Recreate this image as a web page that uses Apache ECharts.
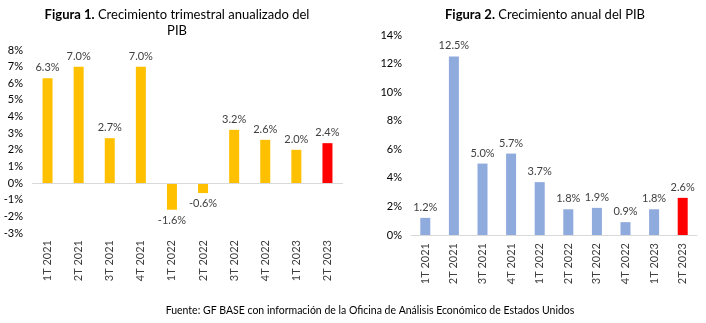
<!DOCTYPE html>
<html>
<head>
<meta charset="utf-8">
<script src="https://cdn.jsdelivr.net/npm/echarts@6/dist/echarts.min.js"></script>
<style>
  html, body { margin: 0; padding: 0; background: #fff; }
  #chart { width: 706px; height: 323px; }
</style>
</head>
<body>
<div id="chart"></div>
<script>
// Quarter labels shared by both panels
const quarters = ['1T 2021', '2T 2021', '3T 2021', '4T 2021', '1T 2022', '2T 2022', '3T 2022', '4T 2022', '1T 2023', '2T 2023'];
// Annualized quarterly GDP growth (%)
const quarterlyGrowth = [6.3, 7.0, 2.7, 7.0, -1.6, -0.6, 3.2, 2.6, 2.0, 2.4];
// Year-over-year GDP growth (%)
const annualGrowth = [1.2, 12.5, 5.0, 5.7, 3.7, 1.8, 1.9, 0.9, 1.8, 2.6];

const FONT = 'Lato, "Open Sans", sans-serif';
const TEXT = '#404040';
const lastIdx = quarters.length - 1;

// Latest quarter highlighted in red; negative values get their label under the bar
function barData(values, base) {
  return values.map((v, i) => ({
    value: v,
    itemStyle: { color: i === lastIdx ? '#FF0000' : base },
    label: { position: v < 0 ? 'bottom' : 'top' }
  }));
}

const chart = echarts.init(document.getElementById('chart'), null, { renderer: 'canvas' });

const titleStyle = {
  fontFamily: FONT, fontSize: 13, fontWeight: 'normal', color: '#000',
  lineHeight: 16, align: 'center',
  rich: { b: { fontFamily: FONT, fontSize: 13, fontWeight: 'bold', color: '#000' } }
};

chart.setOption({
  animation: false,
  textStyle: { fontFamily: FONT },
  title: [
    {
      text: '{b|Figura 1.} Crecimiento trimestral anualizado del\nPIB',
      left: 172, top: 2, textAlign: 'center',
      textStyle: titleStyle
    },
    {
      text: '{b|Figura 2.} Crecimiento anual del PIB',
      left: 540, top: 2, textAlign: 'center',
      textStyle: titleStyle
    },
    {
      text: 'Fuente: GF BASE con información de la Oficina de Análisis Económico de Estados Unidos',
      left: 365, top: 300, textAlign: 'center',
      textStyle: { fontFamily: FONT, fontSize: 10.5, fontWeight: 'normal', color: '#000' }
    }
  ],
  grid: [
    { left: 32, right: 363, top: 50, bottom: 90 },
    { left: 411, right: 9, top: 35, bottom: 88 }
  ],
  xAxis: [
    {
      type: 'category', gridIndex: 0, data: quarters,
      axisLine: { show: false, onZero: false },
      axisTick: { show: false },
      axisLabel: { rotate: 90, margin: 7, fontSize: 11, color: TEXT, fontFamily: FONT, interval: 0 }
    },
    {
      type: 'category', gridIndex: 1, data: quarters,
      axisLine: { show: true, lineStyle: { color: '#D9D9D9', width: 1 } },
      axisTick: { show: false },
      axisLabel: { rotate: 90, margin: 8, fontSize: 11, color: TEXT, fontFamily: FONT, interval: 0 }
    }
  ],
  yAxis: [
    {
      type: 'value', gridIndex: 0, min: -3, max: 8, interval: 1,
      axisLine: { show: false }, axisTick: { show: false }, splitLine: { show: false },
      axisLabel: { formatter: '{value}%', margin: 9, fontSize: 11, color: '#000', fontFamily: FONT }
    },
    {
      type: 'value', gridIndex: 1, min: 0, max: 14, interval: 2,
      axisLine: { show: false }, axisTick: { show: false }, splitLine: { show: false },
      axisLabel: { formatter: '{value}%', margin: 9, fontSize: 11, color: '#000', fontFamily: FONT }
    }
  ],
  series: [
    {
      type: 'bar', xAxisIndex: 0, yAxisIndex: 0, barWidth: 10,
      data: barData(quarterlyGrowth, '#FFC000'),
      label: {
        show: true, distance: 5, fontSize: 11, color: TEXT, fontFamily: FONT,
        formatter: p => p.value.toFixed(1) + '%'
      },
      markLine: {
        silent: true, symbol: 'none', label: { show: false },
        lineStyle: { color: '#D9D9D9', type: 'solid', width: 1 },
        data: [{ yAxis: 0 }]
      }
    },
    {
      type: 'bar', xAxisIndex: 1, yAxisIndex: 1, barWidth: 10,
      data: barData(annualGrowth, '#8FAADC'),
      label: {
        show: true, distance: 5, fontSize: 11, color: TEXT, fontFamily: FONT,
        formatter: p => p.value.toFixed(1) + '%'
      }
    }
  ]
});
</script>
</body>
</html>
